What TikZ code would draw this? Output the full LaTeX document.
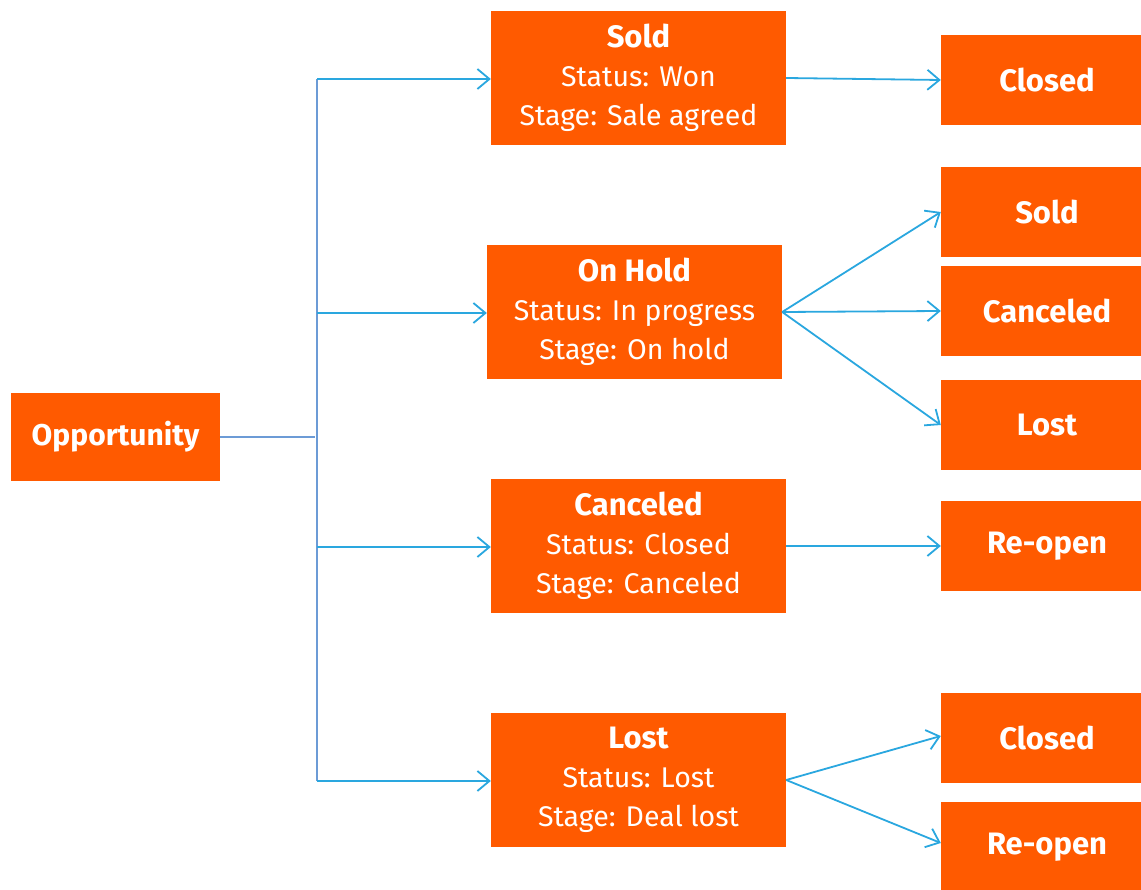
\documentclass[tikz,border=0pt]{standalone}
\usepackage{fontspec}
\setmainfont{Fira Sans}
\usetikzlibrary{arrows.meta}
\definecolor{boxor}{HTML}{FF5A00}
\definecolor{trunk}{HTML}{6C9BD6}
\definecolor{arr}{HTML}{2AA7DF}
\newcommand{\ttl}[1]{{\fontsize{31}{39}\selectfont\bfseries #1}}
\tikzset{
  box/.style={fill=boxor, draw=none, text=white, inner sep=0pt, align=center, font=\fontsize{28.5}{39}\selectfont},
  mid/.style={box, minimum width=295, minimum height=134},
  rbox/.style={box, minimum width=212, minimum height=90, font=\fontsize{31}{36}\selectfont\bfseries},
  tline/.style={draw=trunk, line width=1.8pt},
  aline/.style={draw=arr, line width=1.8pt, -{Straight Barb[length=12pt,width=20pt,line width=1.8pt]}}
}
\begin{document}
\begin{tikzpicture}[x=1pt,y=-1pt]
\useasboundingbox (0,0) rectangle (1141,890);
\clip (0,0) rectangle (1141,890);
\node[box, minimum width=209, minimum height=88, font=\fontsize{30}{36}\selectfont\bfseries] (opp) at (115.5,437) {Opportunity};
\node[mid] (sold) at (638.5,78) {\ttl{Sold}\\Status: Won\\Stage: Sale agreed};
\node[mid] (hold) at (634.5,312) {\ttl{On Hold}\\Status: In progress\\Stage: On hold};
\node[mid] (canc) at (638.5,546) {\ttl{Canceled}\\Status: Closed\\Stage: Canceled};
\node[mid] (lost) at (638.5,780) {\ttl{Lost}\\Status: Lost\\Stage: Deal lost};
\node[rbox] (r1) at (1047,80) {Closed};
\node[rbox] (r2) at (1047,212) {Sold};
\node[rbox] (r3) at (1047,311) {Canceled};
\node[rbox] (r4) at (1047,425) {Lost};
\node[rbox] (r5) at (1047,546) {Re-open};
\node[rbox] (r6) at (1047,738) {Closed};
\node[rbox] (r7) at (1047,847) {Re-open};
\coordinate (j) at (315,437);
\coordinate (t1) at (317,79);
\coordinate (t2) at (317,313);
\coordinate (t3) at (317,547);
\coordinate (t4) at (317,781);
\draw[tline] (opp.east) -- (j);
\draw[tline] (t1) -- (t4);
\draw[aline] (t1) -- (t1 -| sold.west);
\draw[aline] (t2) -- (t2 -| hold.west);
\draw[aline] (t3) -- (t3 -| canc.west);
\draw[aline] (t4) -- (t4 -| lost.west);
\draw[aline] (sold.east) -- (r1.west);
\draw[aline] (hold.east) -- (r2.west);
\draw[aline] (hold.east) -- (r3.west);
\draw[aline] (hold.east) -- (r4.west);
\draw[aline] (canc.east) -- (r5.west);
\draw[aline] (lost.east) -- ([yshift=2pt]r6.west);
\draw[aline] (lost.east) -- ([yshift=4pt]r7.west);
\end{tikzpicture}
\end{document}
